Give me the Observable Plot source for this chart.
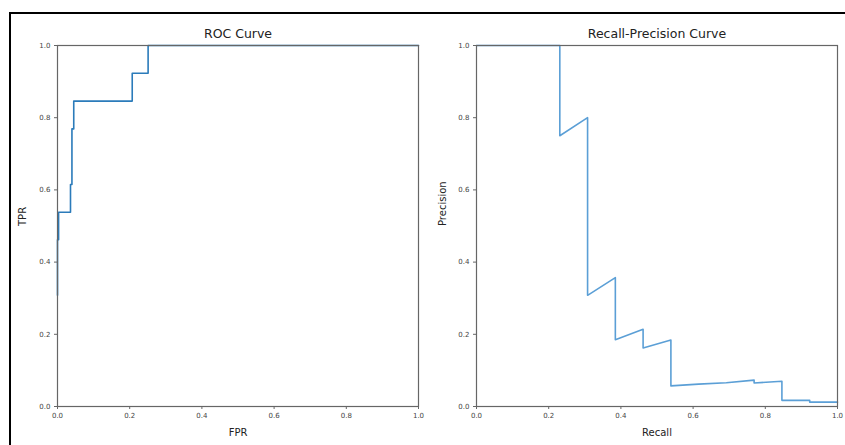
<!DOCTYPE html>
<html>
<head>
<meta charset="utf-8">
<script src="https://cdn.jsdelivr.net/npm/d3@7"></script>
<script src="https://cdn.jsdelivr.net/npm/@observablehq/plot@0.6"></script>
<style>
  html, body { margin: 0; padding: 0; background: #fff; }
  body { width: 845px; height: 445px; position: relative; overflow: hidden; font-family: "DejaVu Sans", sans-serif; }
  #border { position: absolute; left: 9px; top: 12px; width: 900px; height: 500px; border-top: 2px solid #000; border-left: 2px solid #000; }
  #left, #right { position: absolute; top: 0; }
  #left { left: 0; }
  #right { left: 422px; }
</style>
</head>
<body>
<div id="border"></div>
<div id="left"></div>
<div id="right"></div>
<script>
// ROC curve
const fpr = [0, 0, 0.003, 0.003, 0.036, 0.036, 0.040, 0.040, 0.045, 0.045, 0.207, 0.207, 0.251, 0.251, 1.0];
const tpr = [0.308, 0.462, 0.462, 0.538, 0.538, 0.615, 0.615, 0.769, 0.769, 0.846, 0.846, 0.923, 0.923, 1.0, 1.0];
// Recall-Precision curve
const recall = [0, 0.2308, 0.2308, 0.3077, 0.3077, 0.3846, 0.3846, 0.4615, 0.4615, 0.5385, 0.5385, 0.615, 0.692, 0.769, 0.769, 0.846, 0.846, 0.923, 0.923, 1.0];
const precision = [1.0, 1.0, 0.75, 0.8, 0.308, 0.357, 0.185, 0.214, 0.162, 0.184, 0.057, 0.062, 0.066, 0.073, 0.065, 0.070, 0.017, 0.017, 0.012, 0.012];
const ticks = [0, 0.2, 0.4, 0.6, 0.8, 1.0];

const roc = fpr.map((x, i) => ({x, y: tpr[i]}));
const pr = recall.map((x, i) => ({x, y: precision[i]}));

function panel({data, title, xlab, ylab, stroke, marginLeft, marginRight, ylabDx}) {
  return Plot.plot({
    width: 422,
    height: 445,
    marginTop: 45,
    marginBottom: 39,
    marginLeft,
    marginRight,
    style: {fontFamily: "DejaVu Sans, sans-serif", background: "transparent", overflow: "visible"},
    x: {domain: [0, 1], ticks, tickFormat: ".1f", label: null},
    y: {domain: [0, 1], ticks, tickFormat: ".1f", label: null},
    marks: [
      Plot.line(data, {x: "x", y: "y", stroke, strokeWidth: 1.6}),
      Plot.frame({stroke: "#666", strokeWidth: 1.2}),
      Plot.axisX({ticks, tickFormat: ".1f", tickSize: 3, tickPadding: 4, fontSize: 7, stroke: "#666", color: "#444", label: null}),
      Plot.axisY({ticks, tickFormat: ".1f", tickSize: 3, tickPadding: 4, fontSize: 7, stroke: "#666", color: "#444", label: null}),
      Plot.text([title], {frameAnchor: "top", dy: -12, lineAnchor: "middle", fontSize: 12.5, fill: "#222"}),
      Plot.text([xlab], {frameAnchor: "bottom", dy: 26, lineAnchor: "middle", fontSize: 10, fill: "#222"}),
      Plot.text([ylab], {frameAnchor: "left", dx: ylabDx, rotate: -90, lineAnchor: "middle", fontSize: 10, fill: "#222"})
    ]
  });
}

document.getElementById("left").append(panel({
  data: roc, title: "ROC Curve", xlab: "FPR", ylab: "TPR", stroke: "#2b7bba",
  marginLeft: 57, marginRight: 4, ylabDx: -35
}));
document.getElementById("right").append(panel({
  data: pr, title: "Recall-Precision Curve", xlab: "Recall", ylab: "Precision", stroke: "#5b9fd6",
  marginLeft: 54, marginRight: 7, ylabDx: -34
}));
</script>
</body>
</html>
